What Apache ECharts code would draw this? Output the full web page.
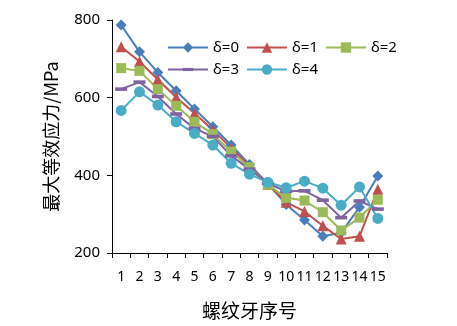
<!DOCTYPE html>
<html>
<head>
<meta charset="utf-8">
<script src="https://cdn.jsdelivr.net/npm/echarts@6/dist/echarts.min.js"></script>
<style>
  html, body { margin: 0; padding: 0; background: #fff; }
  #chart { width: 457px; height: 326px; }
</style>
</head>
<body>
<div id="chart"></div>
<script>
// Thread number along the engaged length
var threadNo = ['1', '2', '3', '4', '5', '6', '7', '8', '9', '10', '11', '12', '13', '14', '15'];

// Maximum equivalent stress (MPa) per thread for each offset δ
var delta0 = [787, 718, 665, 618, 571, 525, 478, 428, 378, 325, 285, 243, 252, 318, 398];
var delta1 = [731, 693, 647, 601, 560, 517, 470, 424, 377, 331, 307, 270, 236, 243, 364];
var delta2 = [676, 669, 622, 579, 538, 506, 461, 421, 376, 342, 335, 305, 258, 291, 337];
var delta3 = [622, 640, 603, 558, 521, 500, 450, 416, 379, 359, 360, 336, 291, 334, 313];
var delta4 = [567, 615, 581, 538, 508, 478, 431, 403, 382, 368, 385, 367, 323, 370, 289];

var yTicks = { min: 200, max: 800, step: 200 };

var seriesNames = ['δ=0', 'δ=1', 'δ=2', 'δ=3', 'δ=4'];
var seriesData = [delta0, delta1, delta2, delta3, delta4];
var colors = ['#4A7EBB', '#C0504D', '#9BBB59', '#8064A2', '#4BACC6'];
// δ=3 uses a short flat dash as its marker; the bare move-to points keep
// the path's box square so the dash stays flat in the legend too
var dashPath = 'path://M0,0M12,12M0,4.2H12V7.8H0Z';
var symbols = ['diamond', 'triangle', 'rect', dashPath, 'circle'];
var symbolSizes = [11, 11, 10, 12, 11];

var numFont = 'Noto Sans, Liberation Sans, sans-serif';
var cjkFont = 'Noto Sans CJK SC, sans-serif';

var chart = echarts.init(document.getElementById('chart'), null, { renderer: 'canvas' });

chart.setOption({
  animation: false,
  backgroundColor: '#fff',
  color: colors,
  grid: { left: 112, right: 70, top: 20, bottom: 73, containLabel: false },
  legend: {
    left: 162,
    top: 35,
    width: 250,
    itemWidth: 40,
    itemHeight: 13,
    itemGap: 7,
    textStyle: { fontFamily: numFont, fontSize: 15, color: '#000' },
    data: seriesNames
  },
  xAxis: {
    type: 'category',
    data: threadNo,
    boundaryGap: true,
    name: '螺纹牙序号',
    nameLocation: 'middle',
    nameGap: 48,
    nameTextStyle: { fontFamily: cjkFont, fontSize: 19, color: '#000' },
    axisLine: { lineStyle: { color: '#000', width: 1 } },
    axisTick: { show: true, length: 5, inside: false, alignWithLabel: false, lineStyle: { color: '#000' } },
    axisLabel: { margin: 17, interval: 0, fontFamily: numFont, fontSize: 14, color: '#000' },
    splitLine: { show: false }
  },
  yAxis: {
    type: 'value',
    min: yTicks.min,
    max: yTicks.max,
    interval: yTicks.step,
    name: '最大等效应力/MPa',
    nameLocation: 'middle',
    nameGap: 52,
    nameTextStyle: { fontFamily: cjkFont, fontSize: 18, color: '#000' },
    axisLine: { show: true, lineStyle: { color: '#000', width: 1 } },
    axisTick: { show: true, length: 5, inside: false, lineStyle: { color: '#000' } },
    axisLabel: { margin: 12, fontFamily: numFont, fontSize: 15, color: '#000' },
    splitLine: { show: false }
  },
  series: seriesData.map(function (d, i) {
    return {
      name: seriesNames[i],
      type: 'line',
      data: d,
      symbol: symbols[i],
      symbolSize: symbolSizes[i],
      showAllSymbol: true,
      lineStyle: { width: 2, color: colors[i] },
      itemStyle: { color: colors[i], borderWidth: 0 }
    };
  })
});
</script>
</body>
</html>
